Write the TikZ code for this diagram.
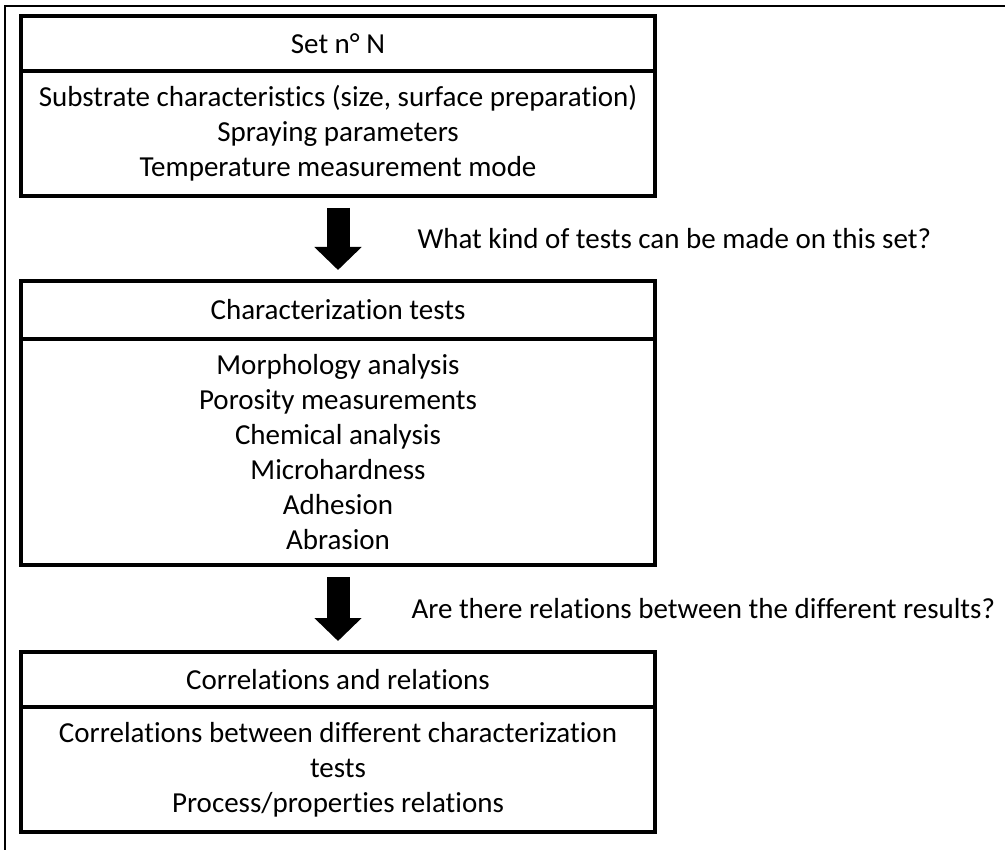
\documentclass[tikz,border=0pt]{standalone}
\usepackage{fontspec}
\setmainfont{Carlito}[Ligatures=NoCommon]
\usetikzlibrary{positioning, arrows.meta}

\tikzset{
  head/.style={draw, line width=3.5pt, outer sep=0pt, inner sep=0pt,
    minimum width=634pt, minimum height=55pt},
  body/.style={head, align=center},
  bigarrow/.style={line width=23pt, -{Triangle[length=23pt, width=46pt]},
    shorten <=12pt, shorten >=11pt},
  question/.style={inner sep=0pt},
}

\begin{document}
\begin{tikzpicture}[x=1pt, y=-1pt, font=\fontsize{29}{35}\selectfont]
  \useasboundingbox (0,0) rectangle (1005,850);
  \draw [line width=1.5pt] (1005,6) -- (5,6) -- (5,850);

  \node [head] (set) at (338,43.5) {Set n° N};
  \node [body, minimum height=125pt, below=0pt of set] (setbody)
    {Substrate characteristics (size, surface preparation)\\
     Spraying parameters\\
     Temperature measurement mode};

  \node [head, minimum height=58pt, below=85pt of setbody] (tests) {Characterization tests};
  \node [body, minimum height=226pt, below=0pt of tests] (testsbody)
    {Morphology analysis\\
     Porosity measurements\\
     Chemical analysis\\
     Microhardness\\
     Adhesion\\
     Abrasion};

  \node [head, below=87pt of testsbody] (corr) {Correlations and relations};
  \node [body, minimum height=125pt, below=0pt of corr] (corrbody)
    {Correlations between different characterization\\
     tests\\
     Process/properties relations};

  \draw [bigarrow] (setbody) -- (tests)
    node [midway, right=68pt, question] {What kind of tests can be made on this set?};
  \draw [bigarrow] (testsbody) -- (corr)
    node [midway, right=62pt, question] {Are there relations between the different results?};
\end{tikzpicture}
\end{document}
